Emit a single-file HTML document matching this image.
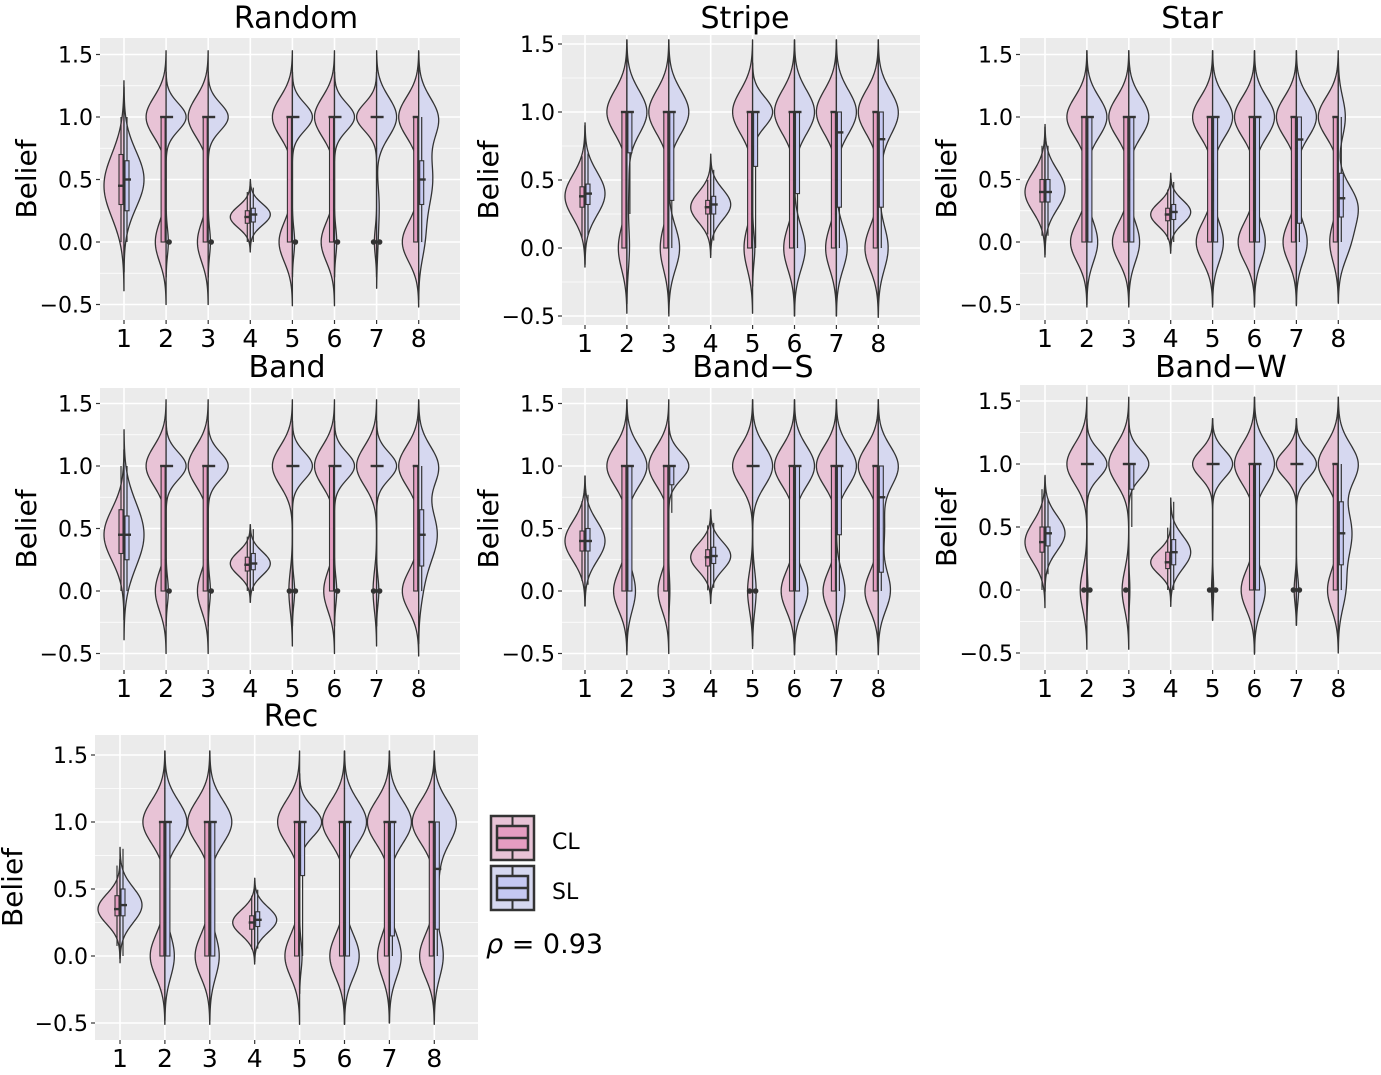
<!DOCTYPE html>
<html><head><meta charset="utf-8"><style>
body{margin:0;background:#fff;}
svg text{font-family:"DejaVu Sans","Liberation Sans",sans-serif;}
</style></head><body>
<svg id="chart" width="1381" height="1070" viewBox="0 0 1381 1070" xmlns="http://www.w3.org/2000/svg"></svg>
<script>
// Data: each side entry = [weight at 0, weight at 1, weight middle, middle mean, middle sd]
// Box entries = [q1, median, q3]
const groups = ["1","2","3","4","5","6","7","8"];
const yTicks = [-0.5, 0.0, 0.5, 1.0, 1.5];
const yTickLabels = ["\u22120.5","0.0","0.5","1.0","1.5"];
const seriesNames = ["CL","SL"];
const panelTitles = ["Random","Stripe","Star","Band","Band\u2212S","Band\u2212W","Rec"];

const randomCL = [[0,0,1,0.45,0.25],[0.35,0.65,0,0,0],[0.35,0.65,0,0,0],[0,0,1,0.2,0.07],[0.4,0.6,0,0,0],[0.4,0.6,0,0,0],[0.1,0.9,0,0,0],[0.45,0.55,0,0,0]];
const randomSL = [[0,0,1,0.5,0.22],[0.1,0.9,0,0,0],[0.1,0.9,0,0,0],[0,0,1,0.22,0.07],[0.1,0.9,0,0,0],[0.1,0.9,0,0,0],[0.05,0.85,0.1,0.3,0.15],[0.1,0.4,0.5,0.5,0.25]];
const randomCLBox = [[0.3,0.45,0.7],[0,1,1],[0,1,1],[0.15,0.2,0.25],[0,1,1],[0,1,1],[1,1,1],[0,1,1]];
const randomSLBox = [[0.25,0.5,0.65],[1,1,1],[1,1,1],[0.16,0.22,0.27],[1,1,1],[1,1,1],[1,1,1],[0.3,0.5,0.65]];

const stripeCL = [[0,0,1,0.38,0.15],[0.3,0.7,0,0,0],[0.3,0.7,0,0,0],[0,0,1,0.3,0.1],[0.3,0.7,0,0,0],[0.35,0.65,0,0,0],[0.35,0.65,0,0,0],[0.4,0.6,0,0,0]];
const stripeSL = [[0,0,1,0.4,0.15],[0.1,0.8,0.1,0.5,0.2],[0.35,0.65,0,0,0],[0,0,1,0.32,0.1],[0.1,0.9,0,0,0],[0.35,0.65,0,0,0],[0.35,0.65,0,0,0],[0.3,0.6,0.1,0.6,0.2]];
const stripeCLBox = [[0.3,0.38,0.45],[0,1,1],[0,1,1],[0.25,0.3,0.35],[0,1,1],[0,1,1],[0,1,1],[0,1,1]];
const stripeSLBox = [[0.32,0.4,0.47],[0.7,1,1],[0.35,1,1],[0.25,0.32,0.38],[0.6,1,1],[0.4,1,1],[0.3,0.85,1],[0.3,0.8,1]];

const starCL = [[0,0,1,0.4,0.15],[0.45,0.55,0,0,0],[0.45,0.55,0,0,0],[0,0,1,0.22,0.08],[0.45,0.55,0,0,0],[0.45,0.55,0,0,0],[0.4,0.6,0,0,0],[0.3,0.7,0,0,0]];
const starSL = [[0,0,1,0.42,0.15],[0.35,0.65,0,0,0],[0.35,0.65,0,0,0],[0,0,1,0.24,0.08],[0.35,0.65,0,0,0],[0.35,0.65,0,0,0],[0.35,0.65,0,0,0],[0.3,0.2,0.5,0.3,0.15]];
const starCLBox = [[0.32,0.4,0.5],[0,1,1],[0,1,1],[0.17,0.22,0.27],[0,1,1],[0,1,1],[0,1,1],[0,1,1]];
const starSLBox = [[0.32,0.4,0.5],[0,1,1],[0,1,1],[0.18,0.24,0.3],[0,1,1],[0,1,1],[0.15,0.82,1],[0.2,0.35,0.55]];

const bandCL = [[0,0,1,0.45,0.2],[0.35,0.65,0,0,0],[0.35,0.65,0,0,0],[0,0,1,0.22,0.08],[0.15,0.85,0,0,0],[0.35,0.65,0,0,0],[0.15,0.85,0,0,0],[0.45,0.55,0,0,0]];
const bandSL = [[0,0,1,0.45,0.25],[0.1,0.9,0,0,0],[0.1,0.9,0,0,0],[0,0,1,0.22,0.08],[0.1,0.9,0,0,0],[0.1,0.9,0,0,0],[0.1,0.9,0,0,0],[0.05,0.4,0.55,0.45,0.22]];
const bandCLBox = [[0.3,0.45,0.65],[0,1,1],[0,1,1],[0.16,0.21,0.27],[1,1,1],[0,1,1],[1,1,1],[0,1,1]];
const bandSLBox = [[0.25,0.45,0.6],[1,1,1],[1,1,1],[0.17,0.22,0.3],[1,1,1],[1,1,1],[1,1,1],[0.2,0.45,0.65]];

const bandSCL = [[0,0,1,0.4,0.15],[0.4,0.6,0,0,0],[0.35,0.65,0,0,0],[0,0,1,0.27,0.1],[0.2,0.8,0,0,0],[0.4,0.6,0,0,0],[0.4,0.6,0,0,0],[0.4,0.6,0,0,0]];
const bandSSL = [[0,0,1,0.4,0.15],[0.3,0.7,0,0,0],[0.05,0.95,0,0,0],[0,0,1,0.28,0.1],[0.15,0.85,0,0,0],[0.4,0.6,0,0,0],[0.3,0.7,0,0,0],[0.3,0.5,0.2,0.5,0.2]];
const bandSCLBox = [[0.32,0.4,0.48],[0,1,1],[0,1,1],[0.2,0.27,0.33],[1,1,1],[0,1,1],[0,1,1],[0,1,1]];
const bandSSLBox = [[0.32,0.4,0.5],[0,1,1],[0.85,1,1],[0.22,0.28,0.35],[1,1,1],[0,1,1],[0.45,1,1],[0.15,0.75,1]];

const bandWCL = [[0,0,1,0.38,0.15],[0.25,0.75,0,0,0],[0.25,0.75,0,0,0],[0,0,1,0.22,0.08],[0.05,0.95,0,0,0],[0.4,0.6,0,0,0],[0.1,0.9,0,0,0],[0.35,0.65,0,0,0]];
const bandWSL = [[0,0,1,0.45,0.13],[0.05,0.95,0,0,0],[0.05,0.95,0,0,0],[0,0,1,0.3,0.12],[0.05,0.95,0,0,0],[0.35,0.65,0,0,0],[0.1,0.9,0,0,0],[0.15,0.45,0.4,0.45,0.2]];
const bandWCLBox = [[0.3,0.38,0.5],[1,1,1],[1,1,1],[0.17,0.22,0.3],[1,1,1],[0,1,1],[1,1,1],[0,1,1]];
const bandWSLBox = [[0.35,0.45,0.5],[1,1,1],[0.8,1,1],[0.2,0.3,0.4],[1,1,1],[0,1,1],[1,1,1],[0.2,0.45,0.7]];

const recCL = [[0,0,1,0.35,0.1],[0.4,0.6,0,0,0],[0.4,0.6,0,0,0],[0,0,1,0.25,0.08],[0.4,0.6,0,0,0],[0.4,0.6,0,0,0],[0.35,0.65,0,0,0],[0.4,0.6,0,0,0]];
const recSL = [[0,0,1,0.38,0.12],[0.3,0.7,0,0,0],[0.3,0.7,0,0,0],[0,0,1,0.27,0.08],[0.1,0.9,0,0,0],[0.4,0.6,0,0,0],[0.35,0.65,0,0,0],[0.25,0.6,0.15,0.6,0.2]];
const recCLBox = [[0.3,0.35,0.45],[0,1,1],[0,1,1],[0.2,0.25,0.3],[0,1,1],[0,1,1],[0,1,1],[0,1,1]];
const recSLBox = [[0.3,0.38,0.5],[0,1,1],[0,1,1],[0.22,0.27,0.33],[0.6,1,1],[0,1,1],[0.15,1,1],[0.2,0.65,1]];

const panelData = [
 [randomCL,randomSL,randomCLBox,randomSLBox],
 [stripeCL,stripeSL,stripeCLBox,stripeSLBox],
 [starCL,starSL,starCLBox,starSLBox],
 [bandCL,bandSL,bandCLBox,bandSLBox],
 [bandSCL,bandSSL,bandSCLBox,bandSSLBox],
 [bandWCL,bandWSL,bandWCLBox,bandWSLBox],
 [recCL,recSL,recCLBox,recSLBox]
];

// layout (pixel geometry)
const layout = [
 {l:100,r:460,t:38,b:320,y0:242,k:125,x1:124,dx:42.1,hw:20,tx:296,ty:28,bx:26},
 {l:562,r:920,t:35,b:325,y0:248,k:136,x1:585,dx:41.9,hw:20,tx:745,ty:28,bx:488},
 {l:1020,r:1381,t:38,b:320,y0:242,k:125,x1:1045,dx:41.9,hw:20,tx:1192,ty:28,bx:946},
 {l:100,r:460,t:388,b:670,y0:591,k:125,x1:124,dx:42.1,hw:20,tx:287,ty:377,bx:26},
 {l:562,r:920,t:388,b:670,y0:591,k:125,x1:585,dx:41.9,hw:20,tx:753,ty:377,bx:488},
 {l:1020,r:1381,t:385,b:670,y0:590,k:126,x1:1045,dx:41.9,hw:20,tx:1221,ty:377,bx:946},
 {l:95,r:478,t:735,b:1040,y0:956,k:134,x1:120,dx:44.9,hw:22,tx:291,ty:726,bx:12}
];

const NS="http://www.w3.org/2000/svg";
const svg=document.getElementById('chart');
function mk(tag,attrs,parent){const e=document.createElementNS(NS,tag);for(const a in attrs)e.setAttribute(a,attrs[a]);(parent||svg).appendChild(e);return e;}
const fills=["#e8c3d6","#d6d8f0"], boxFills=["#e59dc1","#c5c8f2"];
function gauss(x,m,s){return Math.exp(-0.5*((x-m)/s)**2)/s;}
function dens(p,y){const bw=p[1]>=0.9?0.11:0.16;return p[0]*gauss(y,0,bw)+p[1]*gauss(y,1,bw)+(p[2]>0?p[2]*gauss(y,p[3],Math.sqrt(p[4]*p[4]+0.0025)):0);}

panelData.forEach((pd,pi)=>{
  const L=layout[pi];
  const g=mk('g',{},svg);
  
  
  const yS=v=>L.y0-v*L.k;
  const xS=i=>L.x1+i*L.dx;
  const bg=mk('rect',{x:L.l,y:L.t,width:L.r-L.l,height:L.b-L.t,fill:'#ebebeb'},g);
  
  
  const cp='clip'+pi;
  const cd=mk('clipPath',{id:cp},g);mk('rect',{x:L.l,y:L.t,width:L.r-L.l,height:L.b-L.t},cd);
  for(let v=-0.75;v<=1.76;v+=0.25){const y=yS(v);if(y<L.t||y>L.b)continue;
    const major=Math.abs(v*2-Math.round(v*2))<1e-6;
    mk('line',{x1:L.l,x2:L.r,y1:y,y2:y,stroke:'#fff','stroke-width':major?1.6:0.8},g);}
  groups.forEach((gr,i)=>mk('line',{x1:xS(i),x2:xS(i),y1:L.t,y2:L.b,stroke:'#fff','stroke-width':1.6},g));
  yTicks.forEach((v,j)=>{const y=yS(v);
    mk('line',{x1:L.l-4,x2:L.l,y1:y,y2:y,stroke:'#333','stroke-width':1.2},g);
    const t=mk('text',{x:L.l-7,y:y+8,'text-anchor':'end','font-size':22,fill:'#000'},g);t.textContent=yTickLabels[j];
    
    
  });
  groups.forEach((gr,i)=>{const x=xS(i);
    mk('line',{x1:x,x2:x,y1:L.b,y2:L.b+4,stroke:'#333','stroke-width':1.2},g);
    const t=mk('text',{x:x,y:L.b+27,'text-anchor':'middle','font-size':25,fill:'#000'},g);t.textContent=gr;
    
    
  });
  const title=mk('text',{x:L.tx,y:L.ty,'text-anchor':'middle','font-size':30,fill:'#000'},g);title.textContent=panelTitles[pi];
  
  
  const yl=mk('text',{x:0,y:0,'text-anchor':'middle','font-size':28,fill:'#000',transform:`translate(${L.bx+10},${(L.t+L.b)/2}) rotate(-90)`},g);yl.textContent='Belief';
  
  
  const vg=mk('g',{'clip-path':`url(#${cp})`},g);
  for(let s=0;s<2;s++){
    const sideData=pd[s], boxData=pd[s+2], dir=s===0?-1:1;
    sideData.forEach((p,i)=>{
      const cx=xS(i);const ys=[];let mx=0;
      for(let v=-0.65;v<=1.65;v+=0.01){const d=dens(p,v);ys.push([v,d]);if(d>mx)mx=d;}
      const pts=ys.filter(q=>q[1]>mx*0.004);
      let dstr=`M${cx},${yS(pts[0][0])}`;
      pts.forEach(q=>{dstr+=`L${(cx+dir*q[1]/mx*L.hw).toFixed(2)},${yS(q[0]).toFixed(2)}`;});
      dstr+=`L${cx},${yS(pts[pts.length-1][0])}Z`;
      const path=mk('path',{d:dstr,fill:fills[s],stroke:'#333','stroke-width':1.3,'stroke-linejoin':'round'},vg);
      
      
      const b=boxData[i];const iqr=b[2]-b[0];
      const lo=Math.max(0,b[0]-1.5*iqr), hi=Math.min(1,b[2]+1.5*iqr);
      const bx0=s===0?cx-5:cx+1;
      const wx=bx0+2;
      mk('line',{x1:wx,x2:wx,y1:yS(hi),y2:yS(lo),stroke:'#333','stroke-width':1.2},vg);
      const box=mk('rect',{x:bx0,y:yS(b[2]),width:4,height:Math.max(0.5,yS(b[0])-yS(b[2])),fill:boxFills[s],stroke:'#333','stroke-width':1.1},vg);
      
      
      mk('line',{x1:bx0-1,x2:bx0+6,y1:yS(b[1]),y2:yS(b[1]),stroke:'#333','stroke-width':2.4},vg);
      if(p[0]>0 && b[0]>=0.9){mk('circle',{cx:wx,cy:yS(0),r:2.8,fill:'#333'},vg);}
    });
  }
});

const lg=mk('g',{},svg);


[[815,'CL'],[865,'SL']].forEach((e,s)=>{
  const y=e[0];
  const k=mk('g',{},lg);
  
  
  mk('rect',{x:491,y:y+1,width:43,height:44,fill:fills[s],stroke:'#333','stroke-width':2.5},k);
  mk('line',{x1:512.5,x2:512.5,y1:y+1,y2:y+45,stroke:'#333','stroke-width':2},k);
  mk('rect',{x:497,y:y+11,width:31,height:24,fill:boxFills[s],stroke:'#333','stroke-width':2.5},k);
  mk('line',{x1:497,x2:528,y1:y+23,y2:y+23,stroke:'#333','stroke-width':2.5},k);
  const t=mk('text',{x:552,y:y+34,'font-size':22,fill:'#000'},k);t.textContent=e[1];
});
const rho=mk('text',{x:486,y:953,'font-size':27,fill:'#000','font-family':'"Liberation Serif","DejaVu Serif",serif'},svg);
rho.innerHTML='<tspan font-style="italic">\u03C1</tspan> = 0.93';


</script>
</body></html>
